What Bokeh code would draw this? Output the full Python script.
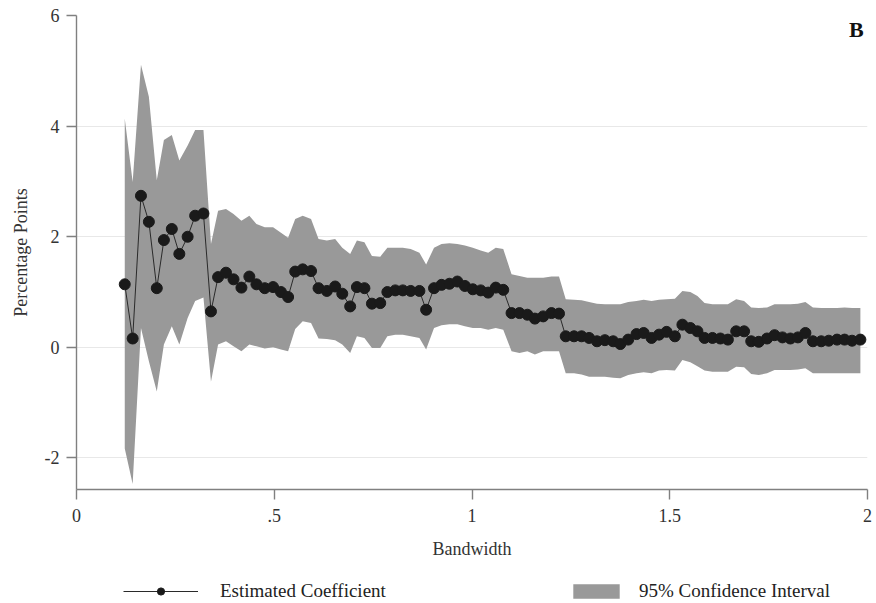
from bokeh.plotting import figure
from bokeh.layouts import column
from bokeh.models import (Range1d, FixedTicker, Legend, LegendItem, Label, ColumnDataSource)
from bokeh.embed import file_html
from bokeh.resources import INLINE

# ---- data ----
bandwidth = [0.122, 0.142, 0.163, 0.183, 0.203, 0.221, 0.241, 0.260, 0.281, 0.300,
             0.321, 0.340, 0.358, 0.378, 0.397, 0.417, 0.437, 0.455, 0.476, 0.497,
             0.517, 0.535, 0.553, 0.572, 0.593, 0.612, 0.633, 0.654, 0.672, 0.692,
             0.709, 0.728, 0.747, 0.768, 0.786, 0.806, 0.825, 0.845, 0.867, 0.884,
             0.904, 0.923, 0.943, 0.963, 0.982, 1.002, 1.022, 1.041, 1.060, 1.079,
             1.100, 1.120, 1.140, 1.159, 1.180, 1.201, 1.220, 1.237, 1.258, 1.277,
             1.296, 1.316, 1.336, 1.357, 1.375, 1.395, 1.416, 1.434, 1.454, 1.473,
             1.492, 1.513, 1.532, 1.552, 1.570, 1.588, 1.608, 1.628, 1.647, 1.668,
             1.688, 1.706, 1.725, 1.746, 1.765, 1.785, 1.805, 1.824, 1.843, 1.862,
             1.883, 1.902, 1.923, 1.942, 1.961, 1.982]

coefficient = [1.14, 0.16, 2.74, 2.27, 1.07, 1.94, 2.14, 1.69, 2.00, 2.38,
               2.42, 0.65, 1.27, 1.35, 1.23, 1.08, 1.28, 1.14, 1.07, 1.09,
               1.00, 0.91, 1.37, 1.41, 1.38, 1.07, 1.02, 1.10, 0.97, 0.74,
               1.09, 1.07, 0.79, 0.80, 1.00, 1.03, 1.03, 1.02, 1.02, 0.68,
               1.07, 1.13, 1.15, 1.19, 1.11, 1.05, 1.03, 0.99, 1.08, 1.04,
               0.62, 0.62, 0.59, 0.52, 0.56, 0.62, 0.61, 0.20, 0.20, 0.20,
               0.17, 0.11, 0.13, 0.11, 0.06, 0.14, 0.24, 0.26, 0.17, 0.23,
               0.28, 0.20, 0.41, 0.35, 0.29, 0.17, 0.17, 0.16, 0.14, 0.29,
               0.29, 0.11, 0.10, 0.16, 0.22, 0.18, 0.16, 0.18, 0.26, 0.11,
               0.11, 0.12, 0.14, 0.14, 0.12, 0.14]

ci_upper = [4.14, 2.99, 5.11, 4.53, 3.02, 3.75, 3.84, 3.38, 3.65, 3.93,
            3.93, 1.87, 2.47, 2.50, 2.41, 2.29, 2.38, 2.23, 2.17, 2.17,
            2.07, 1.98, 2.32, 2.38, 2.32, 1.96, 1.93, 1.96, 1.80, 1.69,
            1.93, 1.90, 1.65, 1.64, 1.80, 1.80, 1.80, 1.78, 1.71, 1.50,
            1.80, 1.87, 1.88, 1.87, 1.84, 1.80, 1.75, 1.71, 1.80, 1.78,
            1.32, 1.29, 1.26, 1.26, 1.26, 1.28, 1.28, 0.87, 0.86, 0.85,
            0.82, 0.79, 0.78, 0.78, 0.78, 0.82, 0.84, 0.86, 0.84, 0.86,
            0.87, 0.88, 1.02, 1.00, 0.93, 0.80, 0.78, 0.78, 0.78, 0.87,
            0.84, 0.72, 0.71, 0.72, 0.78, 0.78, 0.78, 0.79, 0.82, 0.72,
            0.71, 0.71, 0.71, 0.72, 0.71, 0.71]

ci_lower = [-1.83, -2.47, 0.35, -0.25, -0.80, 0.05, 0.38, 0.05, 0.53, 0.84,
            0.90, -0.62, 0.05, 0.11, 0.02, -0.07, 0.05, 0.02, -0.02, 0.00,
            -0.04, -0.07, 0.33, 0.47, 0.44, 0.16, 0.15, 0.13, 0.05, -0.10,
            0.20, 0.17, -0.01, -0.01, 0.20, 0.23, 0.23, 0.20, 0.17, -0.04,
            0.35, 0.40, 0.42, 0.42, 0.38, 0.35, 0.35, 0.32, 0.35, 0.32,
            -0.07, -0.10, -0.07, -0.13, -0.07, -0.07, -0.07, -0.47, -0.47, -0.49,
            -0.53, -0.53, -0.53, -0.55, -0.56, -0.50, -0.47, -0.45, -0.47, -0.42,
            -0.41, -0.42, -0.23, -0.27, -0.34, -0.42, -0.44, -0.44, -0.44, -0.35,
            -0.36, -0.48, -0.50, -0.47, -0.41, -0.41, -0.41, -0.40, -0.38, -0.47,
            -0.47, -0.47, -0.47, -0.47, -0.47, -0.47]

x_ticks = [0, 0.5, 1, 1.5, 2]
x_tick_labels = ["0", ".5", "1", "1.5", "2"]
y_ticks = [-2, 0, 2, 4, 6]
y_tick_labels = ["-2", "0", "2", "4", "6"]

FONT = "Liberation Serif"
BAND = "#999999"
DOT = "#1a1a1a"
LINE = "#2a2a2a"

src = ColumnDataSource(dict(b=bandwidth, c=coefficient, lo=ci_lower, hi=ci_upper))

p = figure(width=876, height=570, output_backend="svg", toolbar_location=None,
           x_range=Range1d(0, 2), y_range=Range1d(-2.57, 6.0),
           min_border_left=76, min_border_right=9, min_border_top=15, min_border_bottom=81)
p.outline_line_color = None
p.background_fill_color = "white"

band = p.varea(x="b", y1="lo", y2="hi", source=src, fill_color=BAND, fill_alpha=1.0)
line = p.line(x="b", y="c", source=src, line_color=LINE, line_width=1)
dots = p.scatter(x="b", y="c", source=src, size=11, marker="circle",
                 fill_color=DOT, line_color=DOT)

# axes
p.xaxis.ticker = FixedTicker(ticks=x_ticks)
p.xaxis.major_label_overrides = {t: l for t, l in zip(x_ticks, x_tick_labels)}
p.yaxis.ticker = FixedTicker(ticks=y_ticks)
p.yaxis.major_label_overrides = {t: l for t, l in zip(y_ticks, y_tick_labels)}
for ax in (p.xaxis[0], p.yaxis[0]):
    ax.axis_line_color = "#808080"
    ax.axis_line_width = 1.4
    ax.major_tick_line_color = "#808080"
    ax.major_tick_line_width = 1.4
    ax.major_tick_out = 10
    ax.major_tick_in = 0
    ax.minor_tick_line_color = None
    ax.major_label_text_font = FONT
    ax.major_label_text_font_size = "18px"
    ax.major_label_text_color = "#333333"
    ax.axis_label_text_font = FONT
    ax.axis_label_text_font_size = "18px"
    ax.axis_label_text_font_style = "normal"
    ax.axis_label_text_color = "#333333"

p.xaxis.axis_label = "Bandwidth"
p.xaxis.major_label_standoff = 9
p.xaxis.axis_label_standoff = 14
p.yaxis.axis_label = "Percentage Points"
p.yaxis.major_label_standoff = 7
p.yaxis.axis_label_standoff = 11

p.xgrid.grid_line_color = None
p.ygrid.ticker = FixedTicker(ticks=y_ticks)
p.ygrid.grid_line_color = "#e8e8e8"
p.ygrid.grid_line_width = 1

# panel letter
p.add_layout(Label(x=1.972, y=5.745, text="B", text_font=FONT, text_font_size="22px",
                   text_font_style="bold", text_align="center", text_baseline="middle",
                   text_color="#111111"))

# ---- legend strip underneath the plot (same data, drawn out of view) ----
lf = figure(width=876, height=33, output_backend="svg", toolbar_location=None,
            x_range=Range1d(10, 11), y_range=Range1d(10, 11),
            x_axis_location=None, y_axis_location=None,
            min_border_left=76, min_border_right=9, min_border_top=0, min_border_bottom=0)
lf.outline_line_color = None
lf.grid.visible = False
l_band = lf.varea(x="b", y1="lo", y2="hi", source=src, fill_color=BAND, fill_alpha=1.0)
l_line = lf.line(x="b", y="c", source=src, line_color=LINE, line_width=1)
l_dots = lf.scatter(x="b", y="c", source=src, size=9, marker="circle",
                    fill_color=DOT, line_color=DOT)


def make_legend(items, loc, gw, standoff):
    return Legend(items=items, location=loc, orientation="horizontal",
                  glyph_width=gw, glyph_height=18, label_standoff=standoff,
                  label_text_font=FONT, label_text_font_size="19px", label_text_color="#222222",
                  label_height=20, padding=0, margin=0, spacing=0,
                  border_line_color=None, background_fill_alpha=0)


lf.add_layout(make_legend([LegendItem(label="Estimated Coefficient", renderers=[l_line, l_dots])],
                          (47, 1), 75, 22))
lf.add_layout(make_legend([LegendItem(label="95% Confidence Interval", renderers=[l_band])],
                          (491, 1), 58, 14))

layout = column(p, lf, spacing=0)
open("out.html", "w").write(file_html(layout, INLINE))
